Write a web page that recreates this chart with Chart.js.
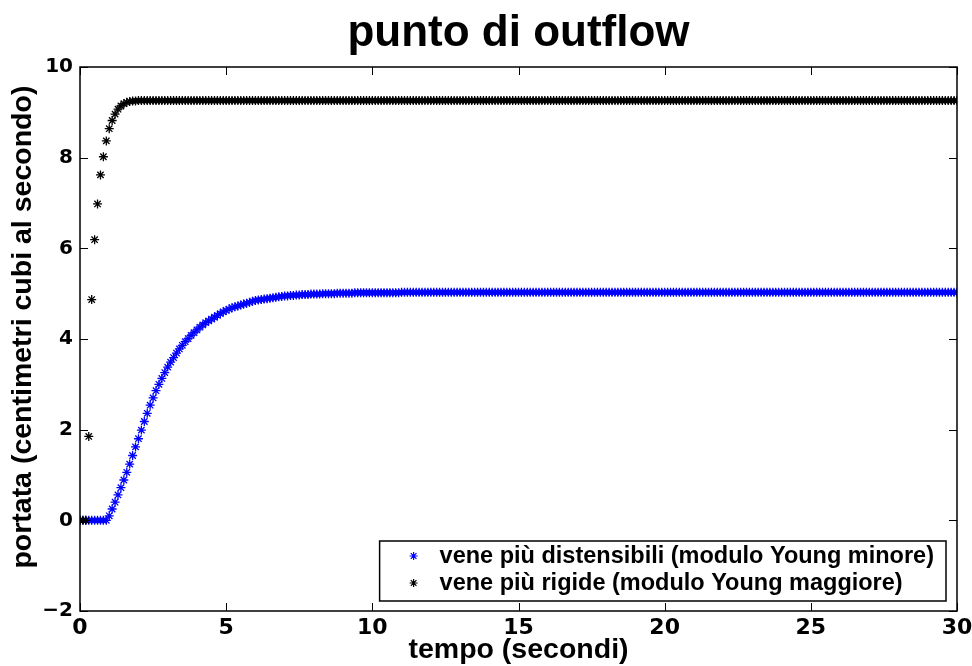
<!DOCTYPE html>
<html>
<head>
<meta charset="utf-8">
<script src="https://cdn.jsdelivr.net/npm/chart.js@4.4.0/dist/chart.umd.min.js"></script>
<style>
html, body { margin: 0; padding: 0; background: #fff; }
#wrap { width: 972px; height: 666px; }
</style>
</head>
<body>
<div id="wrap"><canvas id="myChart" width="972" height="666"></canvas></div>
<script>
// tempo (secondi), passo 0.1
const time = [
    0,0.1,0.2,0.3,0.4,0.5,0.6,0.7,0.8,0.9,
    1,1.1,1.2,1.3,1.4,1.5,1.6,1.7,1.8,1.9,
    2,2.1,2.2,2.3,2.4,2.5,2.6,2.7,2.8,2.9,
    3,3.1,3.2,3.3,3.4,3.5,3.6,3.7,3.8,3.9,
    4,4.1,4.2,4.3,4.4,4.5,4.6,4.7,4.8,4.9,
    5,5.1,5.2,5.3,5.4,5.5,5.6,5.7,5.8,5.9,
    6,6.1,6.2,6.3,6.4,6.5,6.6,6.7,6.8,6.9,
    7,7.1,7.2,7.3,7.4,7.5,7.6,7.7,7.8,7.9,
    8,8.1,8.2,8.3,8.4,8.5,8.6,8.7,8.8,8.9,
    9,9.1,9.2,9.3,9.4,9.5,9.6,9.7,9.8,9.9,
    10,10.1,10.2,10.3,10.4,10.5,10.6,10.7,10.8,10.9,
    11,11.1,11.2,11.3,11.4,11.5,11.6,11.7,11.8,11.9,
    12,12.1,12.2,12.3,12.4,12.5,12.6,12.7,12.8,12.9,
    13,13.1,13.2,13.3,13.4,13.5,13.6,13.7,13.8,13.9,
    14,14.1,14.2,14.3,14.4,14.5,14.6,14.7,14.8,14.9,
    15,15.1,15.2,15.3,15.4,15.5,15.6,15.7,15.8,15.9,
    16,16.1,16.2,16.3,16.4,16.5,16.6,16.7,16.8,16.9,
    17,17.1,17.2,17.3,17.4,17.5,17.6,17.7,17.8,17.9,
    18,18.1,18.2,18.3,18.4,18.5,18.6,18.7,18.8,18.9,
    19,19.1,19.2,19.3,19.4,19.5,19.6,19.7,19.8,19.9,
    20,20.1,20.2,20.3,20.4,20.5,20.6,20.7,20.8,20.9,
    21,21.1,21.2,21.3,21.4,21.5,21.6,21.7,21.8,21.9,
    22,22.1,22.2,22.3,22.4,22.5,22.6,22.7,22.8,22.9,
    23,23.1,23.2,23.3,23.4,23.5,23.6,23.7,23.8,23.9,
    24,24.1,24.2,24.3,24.4,24.5,24.6,24.7,24.8,24.9,
    25,25.1,25.2,25.3,25.4,25.5,25.6,25.7,25.8,25.9,
    26,26.1,26.2,26.3,26.4,26.5,26.6,26.7,26.8,26.9,
    27,27.1,27.2,27.3,27.4,27.5,27.6,27.7,27.8,27.9,
    28,28.1,28.2,28.3,28.4,28.5,28.6,28.7,28.8,28.9,
    29,29.1,29.2,29.3,29.4,29.5,29.6,29.7,29.8,29.9,
    30
];

// vene piu distensibili (blu)
const distensibili = [
    0,0,0,0,0,0,0,0,0,0,
    0.1,0.25,0.4,0.56,0.72,0.89,1.06,1.24,1.43,1.62,
    1.8,1.99,2.18,2.36,2.54,2.7,2.86,3,3.13,3.26,
    3.38,3.49,3.59,3.69,3.78,3.86,3.94,4.01,4.08,4.14,
    4.2,4.26,4.31,4.36,4.4,4.44,4.48,4.52,4.56,4.6,
    4.63,4.66,4.69,4.71,4.73,4.75,4.77,4.79,4.81,4.83,
    4.85,4.86,4.87,4.88,4.89,4.9,4.91,4.92,4.93,4.94,
    4.95,4.95,4.96,4.96,4.97,4.97,4.98,4.98,4.98,4.99,
    4.99,4.99,4.99,5,5,5,5,5,5.01,5.01,
    5.01,5.01,5.01,5.01,5.02,5.02,5.02,5.02,5.02,5.02,
    5.02,5.02,5.02,5.02,5.02,5.02,5.02,5.02,5.02,5.02,
    5.03,5.03,5.03,5.03,5.03,5.03,5.03,5.03,5.03,5.03,
    5.03,5.03,5.03,5.03,5.03,5.03,5.03,5.03,5.03,5.03,
    5.03,5.03,5.03,5.03,5.03,5.03,5.03,5.03,5.03,5.03,
    5.03,5.03,5.03,5.03,5.03,5.03,5.03,5.03,5.03,5.03,
    5.03,5.03,5.03,5.03,5.03,5.03,5.03,5.03,5.03,5.03,
    5.03,5.03,5.03,5.03,5.03,5.03,5.03,5.03,5.03,5.03,
    5.03,5.03,5.03,5.03,5.03,5.03,5.03,5.03,5.03,5.03,
    5.03,5.03,5.03,5.03,5.03,5.03,5.03,5.03,5.03,5.03,
    5.03,5.03,5.03,5.03,5.03,5.03,5.03,5.03,5.03,5.03,
    5.03,5.03,5.03,5.03,5.03,5.03,5.03,5.03,5.03,5.03,
    5.03,5.03,5.03,5.03,5.03,5.03,5.03,5.03,5.03,5.03,
    5.03,5.03,5.03,5.03,5.03,5.03,5.03,5.03,5.03,5.03,
    5.03,5.03,5.03,5.03,5.03,5.03,5.03,5.03,5.03,5.03,
    5.03,5.03,5.03,5.03,5.03,5.03,5.03,5.03,5.03,5.03,
    5.03,5.03,5.03,5.03,5.03,5.03,5.03,5.03,5.03,5.03,
    5.03,5.03,5.03,5.03,5.03,5.03,5.03,5.03,5.03,5.03,
    5.03,5.03,5.03,5.03,5.03,5.03,5.03,5.03,5.03,5.03,
    5.03,5.03,5.03,5.03,5.03,5.03,5.03,5.03,5.03,5.03,
    5.03,5.03,5.03,5.03,5.03,5.03,5.03,5.03,5.03,5.03,
    5.03
];

// vene piu rigide (nero)
const rigide = [
    0,0,0,1.85,4.87,6.19,6.98,7.62,8.02,8.37,
    8.64,8.82,8.96,9.07,9.14,9.19,9.22,9.24,9.25,9.25,
    9.26,9.26,9.26,9.26,9.26,9.26,9.26,9.26,9.26,9.26,
    9.26,9.26,9.26,9.26,9.26,9.26,9.26,9.26,9.26,9.26,
    9.26,9.26,9.26,9.26,9.26,9.26,9.26,9.26,9.26,9.26,
    9.26,9.26,9.26,9.26,9.26,9.26,9.26,9.26,9.26,9.26,
    9.26,9.26,9.26,9.26,9.26,9.26,9.26,9.26,9.26,9.26,
    9.26,9.26,9.26,9.26,9.26,9.26,9.26,9.26,9.26,9.26,
    9.26,9.26,9.26,9.26,9.26,9.26,9.26,9.26,9.26,9.26,
    9.26,9.26,9.26,9.26,9.26,9.26,9.26,9.26,9.26,9.26,
    9.26,9.26,9.26,9.26,9.26,9.26,9.26,9.26,9.26,9.26,
    9.26,9.26,9.26,9.26,9.26,9.26,9.26,9.26,9.26,9.26,
    9.26,9.26,9.26,9.26,9.26,9.26,9.26,9.26,9.26,9.26,
    9.26,9.26,9.26,9.26,9.26,9.26,9.26,9.26,9.26,9.26,
    9.26,9.26,9.26,9.26,9.26,9.26,9.26,9.26,9.26,9.26,
    9.26,9.26,9.26,9.26,9.26,9.26,9.26,9.26,9.26,9.26,
    9.26,9.26,9.26,9.26,9.26,9.26,9.26,9.26,9.26,9.26,
    9.26,9.26,9.26,9.26,9.26,9.26,9.26,9.26,9.26,9.26,
    9.26,9.26,9.26,9.26,9.26,9.26,9.26,9.26,9.26,9.26,
    9.26,9.26,9.26,9.26,9.26,9.26,9.26,9.26,9.26,9.26,
    9.26,9.26,9.26,9.26,9.26,9.26,9.26,9.26,9.26,9.26,
    9.26,9.26,9.26,9.26,9.26,9.26,9.26,9.26,9.26,9.26,
    9.26,9.26,9.26,9.26,9.26,9.26,9.26,9.26,9.26,9.26,
    9.26,9.26,9.26,9.26,9.26,9.26,9.26,9.26,9.26,9.26,
    9.26,9.26,9.26,9.26,9.26,9.26,9.26,9.26,9.26,9.26,
    9.26,9.26,9.26,9.26,9.26,9.26,9.26,9.26,9.26,9.26,
    9.26,9.26,9.26,9.26,9.26,9.26,9.26,9.26,9.26,9.26,
    9.26,9.26,9.26,9.26,9.26,9.26,9.26,9.26,9.26,9.26,
    9.26,9.26,9.26,9.26,9.26,9.26,9.26,9.26,9.26,9.26,
    9.26,9.26,9.26,9.26,9.26,9.26,9.26,9.26,9.26,9.26,
    9.26
];

const xTicks = [0, 5, 10, 15, 20, 25, 30];
const yTicks = [-2, 0, 2, 4, 6, 8, 10];
const seriesLabels = ["vene più distensibili (modulo Young minore)", "vene più rigide (modulo Young maggiore)"];
const seriesColors = ["#0000ff", "#000000"];
const titleText = "punto di outflow";
const xLabel = "tempo (secondi)";
const yLabel = "\u00a0\u00a0\u00a0portata (centimetri cubi al secondo)";

const FONT = "'Liberation Sans', Arial, sans-serif";
const TICKFONT = "'DejaVu Sans', sans-serif";

function toPoints(values)
{
    return time.map((t, i) => ({ x: t, y: values[i] }));
}

function drawAsterisk(ctx, x, y, r, color)
{
    const d = r * Math.SQRT1_2;
    ctx.save();
    ctx.strokeStyle = color;
    ctx.lineWidth = 1.2;
    ctx.beginPath();
    ctx.moveTo(x - r, y); ctx.lineTo(x + r, y);
    ctx.moveTo(x, y - r); ctx.lineTo(x, y + r);
    ctx.moveTo(x - d, y - d); ctx.lineTo(x + d, y + d);
    ctx.moveTo(x - d, y + d); ctx.lineTo(x + d, y - d);
    ctx.stroke();
    ctx.restore();
}

// box, tacche interne e legenda in stile matlab
const matlabAxes = {
    id: "matlabAxes",
    afterDraw(chart)
    {
        const ctx = chart.ctx;
        const a = chart.chartArea;
        const xs = chart.scales.x;
        const ys = chart.scales.y;
        const tick = 8;

        ctx.save();
        ctx.strokeStyle = "#000";
        ctx.lineWidth = 1;
        ctx.beginPath();
        xs.ticks.forEach(t =>
        {
            const px = Math.round(xs.getPixelForValue(t.value)) + 0.5;
            ctx.moveTo(px, a.bottom); ctx.lineTo(px, a.bottom - tick);
            ctx.moveTo(px, a.top); ctx.lineTo(px, a.top + tick);
        });
        ys.ticks.forEach(t =>
        {
            const py = Math.round(ys.getPixelForValue(t.value)) + 0.5;
            ctx.moveTo(a.left, py); ctx.lineTo(a.left + tick, py);
            ctx.moveTo(a.right, py); ctx.lineTo(a.right - tick, py);
        });
        ctx.stroke();

        ctx.lineWidth = 1.5;
        ctx.strokeRect(a.left, a.top, a.right - a.left, a.bottom - a.top);

        // legenda
        ctx.font = "bold 23.5px " + FONT;
        let w = 0;
        seriesLabels.forEach(s => { w = Math.max(w, ctx.measureText(s).width); });
        const boxW = w + 72;
        const boxH = 60;
        const bx = a.right - 11 - boxW;
        const by = a.bottom - 10 - boxH;
        ctx.fillStyle = "#fff";
        ctx.fillRect(bx, by, boxW, boxH);
        ctx.lineWidth = 1.5;
        ctx.strokeStyle = "#000";
        ctx.strokeRect(bx, by, boxW, boxH);
        ctx.textBaseline = "middle";
        ctx.textAlign = "left";
        ctx.fillStyle = "#000";
        seriesLabels.forEach((s, i) =>
        {
            const ry = by + 15 + i * 27;
            drawAsterisk(ctx, bx + 34, ry, 4, seriesColors[i]);
            ctx.fillText(s, bx + 60, ry + 1);
        });
        ctx.restore();
    }
};

const ctx = document.getElementById("myChart");

new Chart(ctx, {
    type: "scatter",
    data: {
        datasets: [
            {
                label: seriesLabels[0],
                data: toPoints(distensibili),
                pointStyle: "star",
                radius: 4.5,
                borderWidth: 1.3,
                borderColor: seriesColors[0],
                backgroundColor: seriesColors[0],
                order: 1
            },
            {
                label: seriesLabels[1],
                data: toPoints(rigide),
                pointStyle: "star",
                radius: 4.5,
                borderWidth: 1.3,
                borderColor: seriesColors[1],
                backgroundColor: seriesColors[1],
                order: 0
            }
        ]
    },
    options: {
        responsive: false,
        animation: false,
        devicePixelRatio: 1,
        layout: { padding: { left: 0, right: 15, top: 0, bottom: 0 } },
        plugins: {
            legend: { display: false },
            tooltip: { enabled: false },
            title: {
                display: true,
                text: titleText,
                fullSize: false,
                color: "#000",
                font: { family: FONT, size: 44, weight: "bold", lineHeight: 1 },
                padding: { top: 12, bottom: 11 }
            }
        },
        scales: {
            x: {
                type: "linear",
                min: 0,
                max: 30,
                grid: { display: false, drawTicks: false },
                border: { display: false },
                afterBuildTicks: s => { s.ticks = xTicks.map(v => ({ value: v })); },
                afterFit: s => { s.height = 55; s.paddingLeft = 0; s.paddingRight = 0; },
                ticks: {
                    color: "#000",
                    padding: 4,
                    maxRotation: 0,
                    autoSkip: false,
                    font: { family: TICKFONT, size: 22, weight: "bold" }
                },
                title: {
                    display: true,
                    text: xLabel,
                    color: "#000",
                    font: { family: FONT, size: 28.5, weight: "bold", lineHeight: 1 },
                    padding: { top: 0, bottom: 2 }
                }
            },
            y: {
                type: "linear",
                min: -2,
                max: 10,
                grid: { display: false, drawTicks: false },
                border: { display: false },
                afterBuildTicks: s => { s.ticks = yTicks.map(v => ({ value: v })); },
                afterFit: s => { s.width = 80; s.paddingTop = 0; s.paddingBottom = 0; },
                ticks: {
                    color: "#000",
                    padding: 7,
                    autoSkip: false,
                    font: { family: TICKFONT, size: 20, weight: "bold" },
                    callback: v => String(v).replace("-", "\u2212")
                },
                title: {
                    display: true,
                    text: yLabel,
                    color: "#000",
                    font: { family: FONT, size: 28.5, weight: "bold", lineHeight: 1 },
                    padding: { top: 9, bottom: 0 }
                }
            }
        }
    },
    plugins: [matlabAxes]
});
</script>
</body>
</html>
